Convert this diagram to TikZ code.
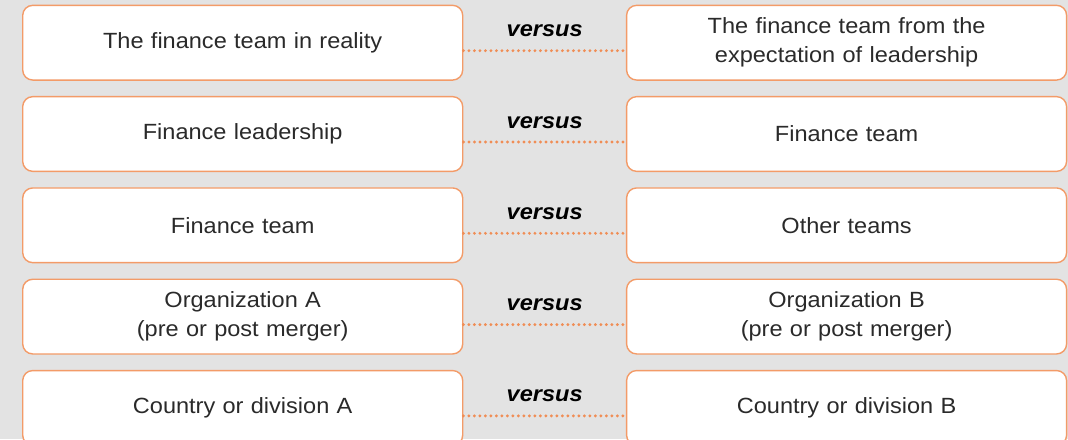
\documentclass[tikz,border=0pt]{standalone}
\usepackage{fontspec}
\setmainfont{Liberation Sans}[FakeStretch=1.07]
\usepackage[]{xcolor}
\usepackage[]{tikz}

\definecolor{bggray}{HTML}{E3E3E3}
\definecolor{boxorange}{HTML}{F39B68}
\definecolor{dotorange}{HTML}{F08D55}
\definecolor{textdark}{HTML}{2A2A2A}

\begin{document}
\begin{tikzpicture}[x=1pt, y=-1pt,
    box/.style={draw=boxorange, fill=white, line width=1.4pt, rounded corners=10pt,
      minimum width=440pt, minimum height=74.7pt, text width=420pt, align=center,
      inner sep=0pt, text=textdark, font=\fontsize{22}{29}\selectfont},
    dotline/.style={dotorange, line width=3.2pt, line cap=round, dash pattern=on 0pt off 5.5pt},
    vs/.style={anchor=base, yshift=14pt, text=black, font=\fontsize{22}{26}\selectfont\bfseries\itshape}]
        \useasboundingbox (0, 0) rectangle (1068, 439);
        \clip (0, 0) rectangle (1068, 439);
        \fill[bggray] (0, 0) rectangle (1068, 439);

        \node[box] (real) at (242.7, 42.7) {The finance team in reality};
        \node[box] (expect) at (846.6, 42.7) {The finance team from the\\expectation of leadership};

        \node[box] (leader) at (242.7, 134) {Finance leadership};
        \node[box] (team) at (846.6, 134) {Finance team};

        \node[box] (finteam) at (242.7, 225.3) {Finance team};
        \node[box] (other) at (846.6, 225.3) {Other teams};

        \node[box] (orga) at (242.7, 316.6) {Organization A\\(pre or post merger)};
        \node[box] (orgb) at (846.6, 316.6) {Organization B\\(pre or post merger)};

        \node[box] (counta) at (242.7, 407.9) {Country or division A};
        \node[box] (countb) at (846.6, 407.9) {Country or division B};

        % versus links
        \draw[dotline] ([yshift=-8pt]real.east) -- ([yshift=-8pt]expect.west) node[midway, vs] {versus};
        \draw[dotline] ([yshift=-8pt]leader.east) -- ([yshift=-8pt]team.west) node[midway, vs] {versus};
        \draw[dotline] ([yshift=-8pt]finteam.east) -- ([yshift=-8pt]other.west) node[midway, vs] {versus};
        \draw[dotline] ([yshift=-8pt]orga.east) -- ([yshift=-8pt]orgb.west) node[midway, vs] {versus};
        \draw[dotline] ([yshift=-8pt]counta.east) -- ([yshift=-8pt]countb.west) node[midway, vs] {versus};
      \end{tikzpicture}
\end{document}
